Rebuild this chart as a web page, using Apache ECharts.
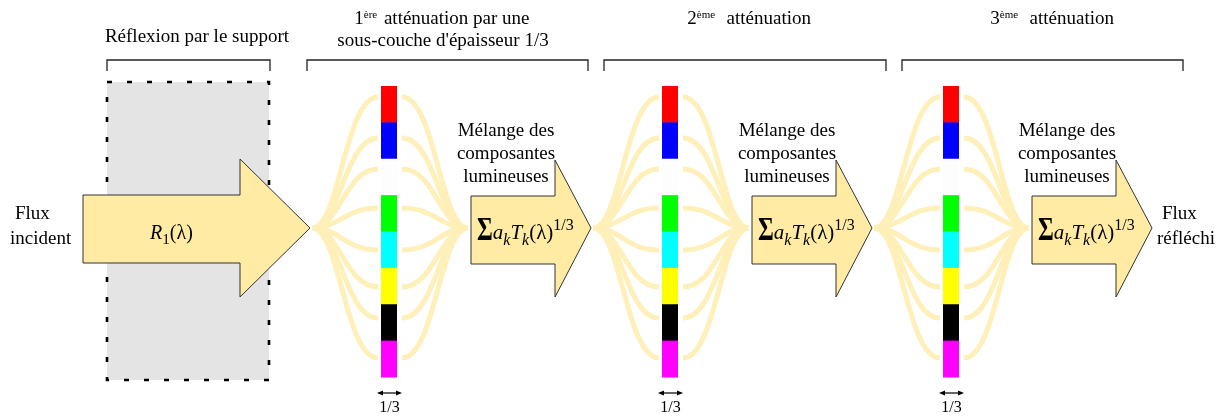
<!DOCTYPE html>
<html><head><meta charset="utf-8">
<script src="https://cdn.jsdelivr.net/npm/echarts@6/dist/echarts.min.js"></script>
<style>html,body{margin:0;padding:0;background:#fff}#c{width:1227px;height:417px}</style>
</head><body><div id="c"></div>
<script>
// ---------------- content (values / texts) ----------------
const stageTitleLines = [
  [[{t:'Réflexion par le support'}]],
  [[{t:'1'},{t:'ère',sup:true},{t:' atténuation par une'}],[{t:"sous-couche d'épaisseur 1/3"}]],
  [[{t:'2'},{t:'ème',sup:true},{t:'  atténuation'}]],
  [[{t:'3'},{t:'ème',sup:true},{t:'  atténuation'}]]
];
const componentNames  = ['rouge','bleu','blanc','vert','cyan','jaune','noir','magenta'];
const componentColors = ['#FF0000','#0000FF','#FDFDFD','#00FF00','#00FFFF','#FFFF00','#000000','#FF00FF'];
const layerThickness  = ['1/3','1/3','1/3'];
const mixingLines     = ['Mélange des','composantes','lumineuses'];
const inputLabel      = ['Flux','incident'];
const outputLabel     = ['Flux','réfléchi'];
const supportFormula  = [{t:'R',italic:true},{t:'1',sub:true},{t:'(λ)'}];
const layerFormula    = [{t:'Σ',sigma:true},{t:'a',italic:true},{t:'k',italic:true,sub:true},{t:'T',italic:true},{t:'k',italic:true,sub:true},{t:'(λ)'},{t:'1/3',sup:true}];

// ---------------- layout (positions / sizes / styles) ----------------
const W = 1227, H = 417;
const LAYOUT = {
  box: [107, 82, 269, 380],
  bracketY: 60, bracketTick: 11,
  brackets: [[107,270],[307,588],[604,886],[902,1183]],
  titleCenters: [197, 443, 751, 1054],
  titleBaselines: [[43],[25,47],[25],[25]],
  bigArrow: {x0:83, xh:240, xt:310, bt:195, bb:263, ht:159, hb:297},
  smallArrowX: [471, 752, 1032],
  smallArrow: {head:84, tip:120, bt:196, bb:264, ht:160, hb:297},
  cy: 228,
  barX: [381, 662, 943], barW: 16, barTop: 86, barBot: 377,
  curveEndsY: [97,138,169,208,250,287,318,358],
  textSize: 19
};
const ARROW_FILL = '#FFEBA3', ARROW_STROKE = '#333333', CURVE = '#FFEFB8';
const FONT = 'Liberation Serif';
const BASE = 0.32;

const mctx = document.createElement('canvas').getContext('2d');
function measure(t, size, italic, bold) {
  mctx.font = (italic ? 'italic ' : '') + (bold ? 'bold ' : '') + size + 'px "' + FONT + '"';
  return mctx.measureText(t).width;
}
function txt(t, x, y, size, o) {
  o = o || {};
  const el = {type:'text', style:{text:t, x:x, y:y - BASE*size, fill:o.fill||'#000', fontSize:size,
    fontFamily:FONT, fontStyle:o.italic?'italic':'normal', fontWeight:o.bold?'bold':'normal',
    align:o.align||'left', verticalAlign:'middle'}};
  if (o.scaleX) {
    el.style.x = 0; el.style.y = 0;
    el.x = x; el.y = y - BASE*size; el.scaleX = o.scaleX;
  }
  return el;
}
function partSpec(p, size) {
  if (p.sigma) return {size: size*1.6, dy: 2, bold: true, scaleX: 0.72};
  if (p.sub) return {size: size*0.76, dy: size*0.26};
  if (p.sup) return {size: size*0.76, dy: -size*0.45};
  return {size: size, dy: 0};
}
function partWidth(p, s) { return measure(p.t, s.size, p.italic, s.bold) * (s.scaleX || 1); }
function runWidth(parts, size) {
  let w = 0;
  parts.forEach(p => { w += partWidth(p, partSpec(p, size)); });
  return w;
}
function run(parts, x, baseline, size) {
  const els = [];
  parts.forEach(p => {
    const s = partSpec(p, size);
    els.push(txt(p.t, x, baseline + s.dy, s.size, {italic:p.italic, bold:s.bold, scaleX:s.scaleX}));
    x += partWidth(p, s);
  });
  return els;
}

const chart = echarts.init(document.getElementById('c'));
const C = (api, x, y) => api.coord([x, y]);

const option = {
  animation: false,
  backgroundColor: '#ffffff',
  grid: {left:0, right:0, top:0, bottom:0},
  xAxis: {type:'value', min:0, max:W, show:false},
  yAxis: {type:'value', min:0, max:H, inverse:true, show:false},
  series: [
    { // support box
      type:'custom', z:1, data:[[0,0]],
      renderItem: (params, api) => {
        const b = LAYOUT.box, p0 = C(api,b[0],b[1]), p1 = C(api,b[2],b[3]);
        return {type:'rect', shape:{x:p0[0], y:p0[1], width:p1[0]-p0[0], height:p1[1]-p0[1]},
          style:{fill:'#E4E4E4', stroke:'#000', lineWidth:2.6, lineDash:[5,15]}};
      }
    },
    { // brackets + stage titles
      type:'custom', z:2, data: stageTitleLines.map((s,i)=>[i,0]),
      renderItem: (params, api) => {
        const i = api.value(0), br = LAYOUT.brackets[i];
        const a = C(api, br[0], LAYOUT.bracketY + LAYOUT.bracketTick), b = C(api, br[0], LAYOUT.bracketY),
              c = C(api, br[1], LAYOUT.bracketY), d = C(api, br[1], LAYOUT.bracketY + LAYOUT.bracketTick);
        const children = [{type:'polyline', shape:{points:[a,b,c,d]}, style:{stroke:'#222', lineWidth:1.3, fill:null}}];
        stageTitleLines[i].forEach((line, j) => {
          const w = runWidth(line, LAYOUT.textSize);
          const pc = C(api, LAYOUT.titleCenters[i], LAYOUT.titleBaselines[i][j]);
          let x = pc[0] - w/2;
          line.forEach(p => {
            const s = p.sup ? {size: 11, dy: -6.5} : {size: LAYOUT.textSize, dy: 0};
            children.push(txt(p.t, x, pc[1] + s.dy, s.size));
            x += measure(p.t, s.size) + (p.sup ? 2 : 0);
          });
        });
        return {type:'group', children};
      }
    },
    { // fan curves
      type:'custom', z:3,
      data: (() => { const d=[]; layerThickness.forEach((_,l)=>componentNames.forEach((_,k)=>{d.push([l,k,0]);d.push([l,k,1]);})); return d; })(),
      renderItem: (params, api) => {
        const l = api.value(0), k = api.value(1), side = api.value(2);
        const yk = LAYOUT.curveEndsY[k], cy = LAYOUT.cy;
        const bx = LAYOUT.barX[l];
        let p0, p1, p2, p3;
        if (side === 0) {
          const sx = (l === 0 ? LAYOUT.bigArrow.xt : LAYOUT.smallArrowX[l-1] + LAYOUT.smallArrow.tip) + 2;
          const ex = bx - 3, len = ex - sx;
          p0 = C(api, sx, cy); p1 = C(api, sx + 0.42*len, cy); p2 = C(api, sx + 0.5*len, yk); p3 = C(api, ex, yk);
        } else {
          const sx = bx + LAYOUT.barW + 5, ex = LAYOUT.smallArrowX[l] - 3, len = ex - sx;
          p0 = C(api, sx, yk); p1 = C(api, sx + 0.5*len, yk); p2 = C(api, sx + 0.58*len, cy); p3 = C(api, ex, cy);
        }
        return {type:'bezierCurve', shape:{x1:p0[0], y1:p0[1], cpx1:p1[0], cpy1:p1[1], cpx2:p2[0], cpy2:p2[1], x2:p3[0], y2:p3[1]},
          style:{stroke:CURVE, lineWidth:5, fill:null}};
      }
    },
    { // arrows
      type:'custom', z:4, data:[[0,0],[1,0],[2,0],[3,0]],
      renderItem: (params, api) => {
        const i = api.value(0), cy = LAYOUT.cy;
        let pts, children = [];
        if (i === 0) {
          const A = LAYOUT.bigArrow;
          pts = [[A.x0,A.bt],[A.xh,A.bt],[A.xh,A.ht],[A.xt,cy],[A.xh,A.hb],[A.xh,A.bb],[A.x0,A.bb]];
        } else {
          const S = LAYOUT.smallArrow, x = LAYOUT.smallArrowX[i-1];
          pts = [[x,S.bt],[x+S.head,S.bt],[x+S.head,S.ht],[x+S.tip,cy],[x+S.head,S.hb],[x+S.head,S.bb],[x,S.bb]];
        }
        children.push({type:'polygon', shape:{points:pts.map(p=>C(api,p[0],p[1]))},
          style:{fill:ARROW_FILL, stroke:ARROW_STROKE, lineWidth:1}});
        if (i === 0) {
          const p = C(api, 150, 240);
          children.push(...run(supportFormula, p[0], p[1], 20));
        } else {
          const x = LAYOUT.smallArrowX[i-1];
          const p = C(api, x + 6, 240);
          children.push(...run(layerFormula, p[0], p[1], 21));
          mixingLines.forEach((t, j) => {
            const q = C(api, x + 35, 137 + 23*j);
            children.push(txt(t, q[0], q[1], LAYOUT.textSize, {align:'center'}));
          });
        }
        return {type:'group', children};
      }
    },
    { // colour bars
      type:'custom', z:5,
      data: (() => { const d=[]; layerThickness.forEach((_,l)=>componentColors.forEach((_,k)=>d.push([l,k]))); return d; })(),
      renderItem: (params, api) => {
        const l = api.value(0), k = api.value(1);
        const h = (LAYOUT.barBot - LAYOUT.barTop) / componentColors.length;
        const p0 = C(api, LAYOUT.barX[l], LAYOUT.barTop + k*h), p1 = C(api, LAYOUT.barX[l] + LAYOUT.barW, LAYOUT.barTop + (k+1)*h);
        return {type:'rect', shape:{x:p0[0], y:p0[1], width:p1[0]-p0[0], height:p1[1]-p0[1]+0.5},
          style:{fill:componentColors[k]}};
      }
    },
    { // thickness markers
      type:'custom', z:6, data: layerThickness.map((t,l)=>[l,0]),
      renderItem: (params, api) => {
        const l = api.value(0), bx = LAYOUT.barX[l];
        const a = C(api, bx - 4, 393), b = C(api, bx + LAYOUT.barW + 5, 393);
        return {type:'group', children:[
          {type:'line', shape:{x1:a[0]+3, y1:a[1], x2:b[0]-3, y2:b[1]}, style:{stroke:'#000', lineWidth:1.2}},
          {type:'polygon', shape:{points:[[a[0],a[1]],[a[0]+6,a[1]-2.5],[a[0]+6,a[1]+2.5]]}, style:{fill:'#000'}},
          {type:'polygon', shape:{points:[[b[0],b[1]],[b[0]-6,b[1]-2.5],[b[0]-6,b[1]+2.5]]}, style:{fill:'#000'}},
          txt(layerThickness[l], (a[0]+b[0])/2, C(api,0,413)[1], 16, {align:'center'})
        ]};
      }
    },
    { // flux labels
      type:'custom', z:6, data:[[0,0],[1,0]],
      renderItem: (params, api) => {
        const i = api.value(0), lab = i === 0 ? inputLabel : outputLabel;
        const xs = i === 0 ? [15, 10] : [1162, 1157];
        return {type:'group', children: lab.map((t,j)=>{ const p = C(api, xs[j], 220 + 25*j); return txt(t, p[0], p[1], LAYOUT.textSize); })};
      }
    }
  ]
};
chart.setOption(option);
</script></body></html>
